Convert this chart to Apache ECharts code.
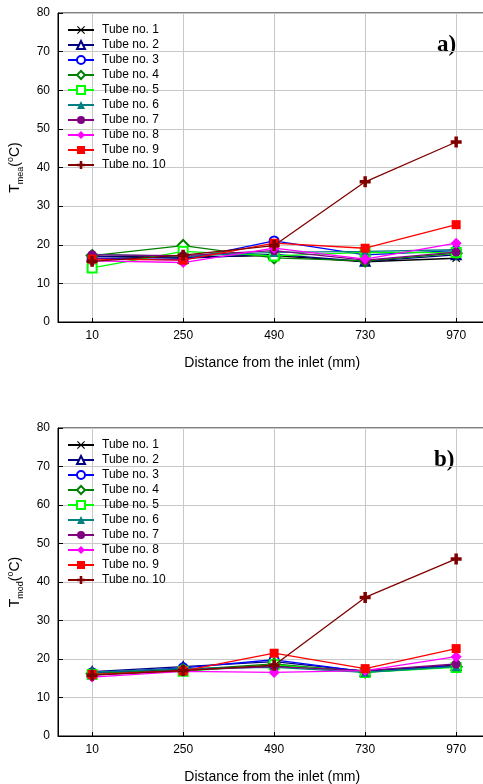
<!DOCTYPE html>
<html><head><meta charset="utf-8">
<script src="https://cdn.jsdelivr.net/npm/echarts@6/dist/echarts.min.js"></script>
<style>html,body{margin:0;padding:0;background:#fff}#c{width:483px;height:784px}</style>
</head><body><div id="c"></div>
<script>
const distances = [10, 250, 490, 730, 970];
const yTicks = [0, 10, 20, 30, 40, 50, 60, 70, 80];
const tubeNames = ['Tube no. 1','Tube no. 2','Tube no. 3','Tube no. 4','Tube no. 5','Tube no. 6','Tube no. 7','Tube no. 8','Tube no. 9','Tube no. 10'];

// Measured temperatures (panel a)
const mea1  = [17.0, 16.8, 17.2, 15.6, 16.5];
const mea2  = [17.0, 16.5, 17.5, 15.7, 17.4];
const mea3  = [16.5, 16.1, 21.0, 17.4, 18.5];
const mea4  = [17.2, 19.8, 16.6, 15.8, 17.8];
const mea5  = [14.0, 18.3, 17.1, 18.0, 18.0];
const mea6  = [17.5, 17.0, 18.0, 18.3, 18.7];
const mea7  = [17.4, 17.2, 18.5, 16.0, 18.1];
const mea8  = [15.8, 15.4, 19.1, 16.3, 20.4];
const mea9  = [16.3, 16.0, 20.4, 19.1, 25.2];
const mea10 = [15.7, 17.3, 19.8, 36.3, 46.6];

// Modelled temperatures (panel b)
const mod1  = [16.5, 17.3, 18.2, 16.9, 18.4];
const mod2  = [16.7, 18.0, 19.3, 16.8, 18.3];
const mod3  = [16.4, 17.7, 19.8, 16.7, 18.2];
const mod4  = [16.2, 17.2, 18.7, 16.6, 18.0];
const mod5  = [16.0, 16.8, 18.5, 16.5, 17.8];
const mod6  = [16.6, 17.5, 17.8, 16.5, 18.0];
const mod7  = [15.8, 17.1, 18.0, 17.0, 18.7];
const mod8  = [15.3, 16.8, 16.5, 17.0, 20.6];
const mod9  = [16.0, 16.9, 21.5, 17.5, 22.7];
const mod10 = [15.8, 17.0, 18.4, 36.0, 46.0];

const meaSeries = [mea1, mea2, mea3, mea4, mea5, mea6, mea7, mea8, mea9, mea10];
const modSeries = [mod1, mod2, mod3, mod4, mod5, mod6, mod7, mod8, mod9, mod10];

const colors = ['#000000','#000080','#0000ff','#008000','#00ff00','#008080','#800080','#ff00ff','#ff0000','#800000'];
const xPath = 'path://M1,0 L5,4 L9,0 L10,1 L6,5 L10,9 L9,10 L5,6 L1,10 L0,9 L4,5 L0,1 Z';
const plusPath = 'path://M3.4,0 H6.6 V3.4 H10 V6.6 H6.6 V10 H3.4 V6.6 H0 V3.4 H3.4 Z';
const symbols = [xPath,'emptyTriangle','emptyCircle','emptyDiamond','emptyRect','triangle','circle','diamond','rect',plusPath];
const symSizes = [8,9,9,11,9,9,9,11,9,11];

const chart = echarts.init(document.getElementById('c'));
const font = 'Liberation Sans, Arial, sans-serif';

function makeX(gi){
  return {
    type:'value', gridIndex:gi, min:-80, max:1050,
    axisLine:{show:true, onZero:false, lineStyle:{color:'#000', width:1}},
    axisTick:{show:true, inside:true, length:4, customValues:distances, lineStyle:{color:'#000'}},
    axisLabel:{customValues:distances, color:'#000', fontFamily:font, fontSize:12, margin:8},
    splitLine:{show:true, lineStyle:{color:'#c8c8c8', width:1}},
    name:'Distance from the inlet (mm)', nameLocation:'middle', nameGap:34,
    nameTextStyle:{color:'#000', fontFamily:font, fontSize:14}
  };
}
function makeY(gi, sub){
  return {
    type:'value', gridIndex:gi, min:0, max:80, interval:10,
    axisLine:{show:true, onZero:false, lineStyle:{color:'#000', width:1}},
    axisTick:{show:true, inside:true, length:5, lineStyle:{color:'#000'}},
    axisLabel:{color:'#000', fontFamily:font, fontSize:12, margin:8},
    splitLine:{show:true, lineStyle:{color:'#c8c8c8', width:1}},
    name:'{m|T}{s|' + sub + '}{m|(}{p|o}{m|C)}', nameLocation:'middle', nameGap:33, nameRotate:90,
    nameTextStyle:{color:'#000', fontFamily:font, fontSize:14,
      rich:{
        m:{fontSize:14, fontFamily:font, color:'#000', lineHeight:19, verticalAlign:'middle'},
        s:{fontSize:9, fontFamily:font, color:'#000', lineHeight:19, verticalAlign:'bottom'},
        p:{fontSize:9, fontFamily:font, color:'#000', lineHeight:19, verticalAlign:'top'}
      }}
  };
}
function makeSeries(arr, gi){
  return arr.map((vals, i) => ({
    name: tubeNames[i], type:'line', xAxisIndex:gi, yAxisIndex:gi,
    data: distances.map((d, k) => [d, vals[k]]),
    symbol: symbols[i], symbolSize: symSizes[i], showAllSymbol:true,
    lineStyle:{color:colors[i], width:1.3},
    itemStyle:{color:colors[i], borderColor:colors[i], borderWidth: symbols[i].startsWith('empty') ? 1.2 : 0},
    emphasis:{disabled:true}, animation:false, z: 2 + i
  }));
}
function makeLegend(top){
  return {
    show:true, orient:'vertical', left:62, top:top, itemWidth:26, itemHeight:10, itemGap:3,
    textStyle:{color:'#000', fontFamily:font, fontSize:12, padding:[0,0,0,3]},
    data: tubeNames, selectedMode:false
  };
}

const option = {
  backgroundColor:'#fff',
  animation:false,
  color: colors,
  grid:[
    {left:58, top:13, width:428.5, height:309, show:true, borderColor:'#000', borderWidth:1, backgroundColor:'transparent', outerBoundsMode:'none', containLabel:false},
    {left:58, top:428, width:428.5, height:308, show:true, borderColor:'#000', borderWidth:1, backgroundColor:'transparent', outerBoundsMode:'none', containLabel:false}
  ],
  xAxis:[makeX(0), makeX(1)],
  yAxis:[makeY(0,'mea'), makeY(1,'mod')],
  legend:[makeLegend(19), makeLegend(434)],
  series:[...makeSeries(meaSeries,0), ...makeSeries(modSeries,1)],
  graphic:[
    {type:'text', left:437, top:34, style:{text:'a)', fontFamily:'Liberation Serif, Times New Roman, serif', fontWeight:'bold', fontSize:23, fill:'#000'}},
    {type:'text', left:434, top:449, style:{text:'b)', fontFamily:'Liberation Serif, Times New Roman, serif', fontWeight:'bold', fontSize:23, fill:'#000'}}
  ]
};
chart.setOption(option);
</script></body></html>
